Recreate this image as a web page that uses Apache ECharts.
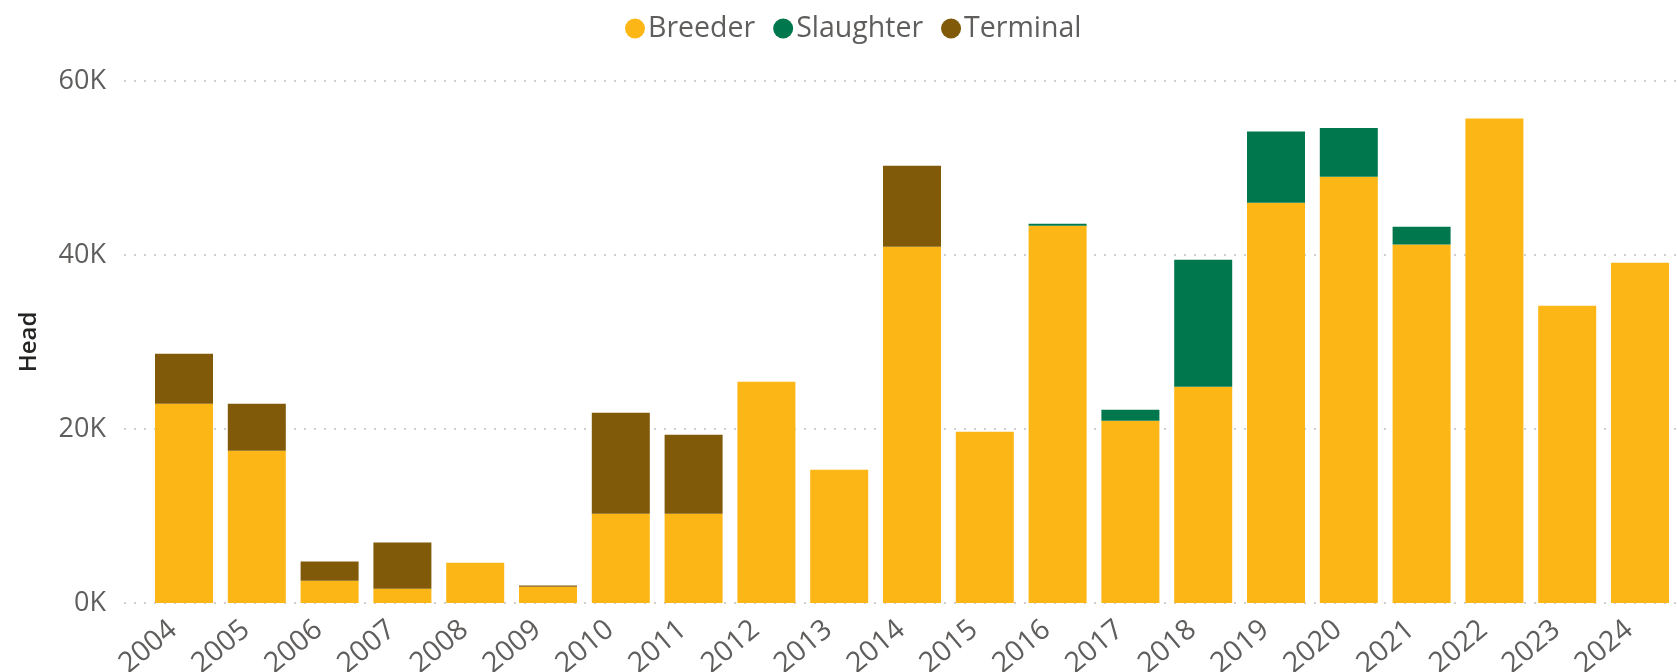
<!DOCTYPE html>
<html>
<head>
<meta charset="utf-8">
<script src="https://cdn.jsdelivr.net/npm/echarts@6/dist/echarts.min.js"></script>
<style>
html,body{margin:0;padding:0;background:#fff;}
#chart{width:1678px;height:672px;}
</style>
</head>
<body>
<div id="chart"></div>
<script>
const years = ['2004','2005','2006','2007','2008','2009','2010','2011','2012','2013','2014','2015','2016','2017','2018','2019','2020','2021','2022','2023','2024'];
const breeder = [22900,17500,2560,1640,4630,1870,10260,10260,25440,15320,40950,19690,43370,20950,24860,46000,49000,41200,55700,34170,39100];
const slaughter = [0,0,0,0,0,0,0,0,0,0,0,0,230,1270,14600,8200,5600,2050,0,0,0];
const terminal = [5750,5400,2200,5300,0,150,11600,9080,0,0,9310,0,0,0,0,0,0,0,0,0,0];
const yTicks = [0,20000,40000,60000];

const FONT = '"Open Sans", "Noto Sans", sans-serif';
const chart = echarts.init(document.getElementById('chart'));
chart.setOption({
  animation:false,
  backgroundColor:'#fff',
  legend:{
    top:9, left:620,
    icon:'circle', itemWidth:20, itemHeight:20, itemGap:18,
    textStyle:{fontFamily:FONT, fontSize:28.5, color:'#605E5C', padding:[0,0,0,-2]},
    data:['Breeder','Slaughter','Terminal']
  },
  grid:[
    {left:124, right:0, top:81, bottom:69, containLabel:false, outerBoundsMode:'none'},
    {left:147.6, right:1.6, top:81, bottom:69, containLabel:false, outerBoundsMode:'none'}
  ],
  xAxis:[
    {gridIndex:0, type:'value', show:false, min:0, max:1},
    {gridIndex:1, type:'category', data:years,
     axisLine:{show:false}, axisTick:{show:false},
     axisLabel:{rotate:40, fontFamily:FONT, fontSize:28.5, color:'#605E5C', margin:14, interval:0, padding:[0,14,0,0]}}
  ],
  yAxis:[
    {gridIndex:0, type:'value', min:yTicks[0], max:yTicks[yTicks.length-1], interval:20000,
     name:'Head', nameLocation:'middle', nameGap:83, nameRotate:90,
     nameTextStyle:{fontFamily:FONT, fontSize:24, fontWeight:600, color:'#252423'},
     axisLine:{show:false}, axisTick:{show:false},
     axisLabel:{fontFamily:FONT, fontSize:27, color:'#605E5C', margin:18,
       formatter:v=>(v/1000)+'K'},
     splitLine:{lineStyle:{type:[2,8], width:2, color:'#D2D0CE'}}},
    {gridIndex:1, type:'value', min:0, max:60000, interval:20000, show:false, splitLine:{show:false}}
  ],
  series:[
    {name:'Breeder', type:'bar', stack:'s', xAxisIndex:1, yAxisIndex:1, data:breeder, barWidth:58, itemStyle:{color:'#FCB716'}},
    {name:'Slaughter', type:'bar', stack:'s', xAxisIndex:1, yAxisIndex:1, data:slaughter, barWidth:58, itemStyle:{color:'#01774D'}},
    {name:'Terminal', type:'bar', stack:'s', xAxisIndex:1, yAxisIndex:1, data:terminal, barWidth:58, itemStyle:{color:'#805A09'}}
  ]
});
</script>
</body>
</html>
